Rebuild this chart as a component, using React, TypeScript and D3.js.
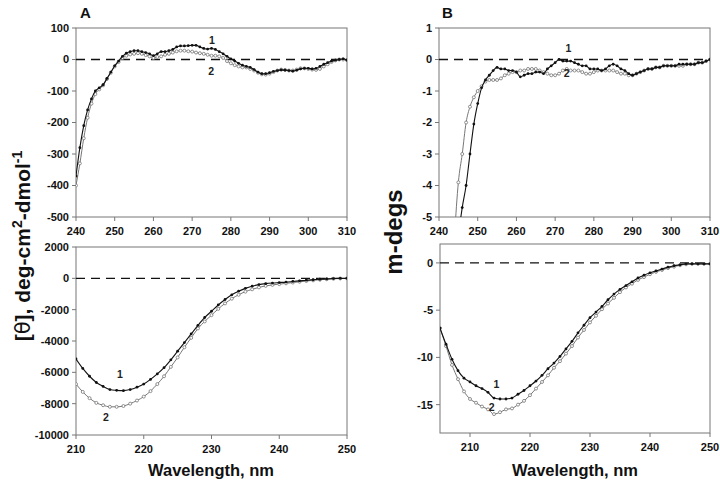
import React from "react";
import * as d3 from "d3";

// ---------- DATA ----------
const wlTop = d3.range(240, 311); // 240..310 nm
const aTop1 = [-370, -280, -210, -160, -125, -100, -90, -80, -60, -40, -20, -5, 10, 20, 25, 28, 28, 25, 22, 18, 12, 18, 25, 25, 28, 32, 40, 43, 43, 44, 45, 45, 40, 35, 33, 35, 32, 25, 18, 10, 2, -5, -12, -18, -22, -25, -32, -40, -45, -45, -42, -38, -35, -33, -34, -35, -37, -34, -30, -28, -28, -30, -28, -22, -15, -10, -5, -2, 0, 2, -2];
const aTop2 = [-400, -330, -250, -185, -140, -110, -95, -82, -62, -42, -22, -8, 5, 12, 16, 18, 20, 18, 14, 10, 5, 8, 10, 15, 18, 22, 26, 28, 28, 26, 25, 22, 20, 18, 15, 12, 12, 10, 5, -5, -12, -18, -22, -25, -25, -30, -35, -42, -47, -48, -45, -40, -35, -32, -33, -35, -35, -32, -28, -28, -30, -32, -33, -30, -22, -15, -8, -3, 0, 0, -2];

// null = off-scale (below -5), not drawn
const bTop1 = [null, null, null, null, null, -5.6, -4.7, -4.0, -3.0, -2.05, -1.4, -0.9, -0.65, -0.5, -0.35, -0.25, -0.3, -0.3, -0.35, -0.35, -0.4, -0.55, -0.5, -0.45, -0.45, -0.4, -0.4, -0.45, -0.3, -0.2, -0.1, 0.0, -0.05, -0.05, -0.05, -0.1, -0.15, -0.2, -0.2, -0.3, -0.3, -0.3, -0.35, -0.3, -0.2, -0.15, -0.2, -0.3, -0.35, -0.45, -0.5, -0.45, -0.4, -0.35, -0.3, -0.3, -0.25, -0.25, -0.2, -0.2, -0.2, -0.2, -0.15, -0.15, -0.15, -0.15, -0.15, -0.1, -0.1, -0.05, 0.0];
const bTop2 = [null, null, null, null, -5.6, -3.9, -3.0, -2.0, -1.5, -1.2, -1.0, -0.85, -0.7, -0.65, -0.65, -0.65, -0.6, -0.5, -0.45, -0.4, -0.4, -0.35, -0.35, -0.3, -0.3, -0.3, -0.35, -0.4, -0.45, -0.5, -0.5, -0.45, -0.35, -0.3, -0.35, -0.35, -0.35, -0.4, -0.45, -0.45, -0.4, -0.35, -0.35, -0.35, -0.35, -0.35, -0.4, -0.45, -0.45, -0.5, -0.5, -0.45, -0.4, -0.35, -0.3, -0.3, -0.25, -0.25, -0.2, -0.2, -0.2, -0.2, -0.2, -0.2, -0.15, -0.15, -0.15, -0.1, -0.1, -0.05, 0.0];

const wlBotA = d3.range(210, 251); // 210..250 nm
const aBot1 = [-5150, -5750, -6250, -6650, -6900, -7100, -7150, -7170, -7100, -6950, -6750, -6450, -6100, -5700, -5200, -4650, -4100, -3550, -3000, -2500, -2100, -1700, -1350, -1050, -820, -640, -500, -400, -340, -300, -270, -240, -200, -160, -120, -90, -60, -35, -15, 0, 0];
const aBot2 = [-6750, -7250, -7650, -7950, -8100, -8200, -8200, -8150, -8000, -7800, -7550, -7200, -6750, -6250, -5650, -5050, -4400, -3800, -3200, -2750, -2350, -1950, -1600, -1300, -1050, -850, -700, -580, -480, -420, -370, -320, -270, -220, -170, -130, -90, -60, -30, -10, 0];

const wlBotB = d3.range(205, 251); // 205..250 nm
const bBot1 = [-6.9, -8.6, -10.2, -11.4, -12.2, -12.6, -13.0, -13.3, -13.7, -14.3, -14.4, -14.4, -14.3, -13.9, -13.5, -13.0, -12.5, -11.9, -11.2, -10.6, -9.9, -9.1, -8.3, -7.4, -6.6, -5.8, -5.2, -4.6, -3.9, -3.3, -2.8, -2.4, -2.0, -1.6, -1.3, -1.05, -0.85, -0.65, -0.45, -0.3, -0.2, -0.1, -0.1, -0.1, -0.1, -0.1];
const bBot2 = [-6.9, -8.8, -10.8, -12.3, -13.6, -14.4, -14.8, -15.2, -15.5, -16.0, -15.8, -15.5, -15.4, -15.0, -14.6, -14.0, -13.3, -12.6, -11.9, -11.1, -10.4, -9.6, -8.8, -7.9, -7.1, -6.3, -5.6, -4.9, -4.3, -3.7, -3.1, -2.6, -2.2, -1.8, -1.5, -1.2, -0.95, -0.75, -0.55, -0.4, -0.25, -0.15, -0.1, -0.1, -0.1, -0.1];

const xTicksTop = [240, 250, 260, 270, 280, 290, 300, 310];
const xTicksBot = [210, 220, 230, 240, 250];
const yTicksATop = [100, 0, -100, -200, -300, -400, -500];
const yTicksBTop = [1, 0, -1, -2, -3, -4, -5];
const yTicksABot = [2000, 0, -2000, -4000, -6000, -8000, -10000];
const yTicksBBot = [0, -5, -10, -15];

// ---------- LAYOUT ----------
const FONT = "'Liberation Sans', Arial, Helvetica, sans-serif";

type Pt = [number, number | null];
type Panel = {
  id: string;
  x0: number; x1: number; y0: number; y1: number;
  xDomain: [number, number]; yDomain: [number, number];
  xTicks: number[]; yTicks: number[];
  wl: number[]; s1: (number | null)[]; s2: (number | null)[];
  lab1: [number, number]; lab2: [number, number];
};

const panels: Panel[] = [
  { id: "at", x0: 76, x1: 347, y0: 28, y1: 217, xDomain: [240, 310], yDomain: [-500, 100],
    xTicks: xTicksTop, yTicks: yTicksATop, wl: wlTop, s1: aTop1, s2: aTop2, lab1: [275.1, 62], lab2: [274.9, -38] },
  { id: "bt", x0: 439, x1: 710, y0: 28, y1: 217, xDomain: [240, 310], yDomain: [-5, 1],
    xTicks: xTicksTop, yTicks: yTicksBTop, wl: wlTop, s1: bTop1, s2: bTop2, lab1: [273.4, 0.35], lab2: [273.0, -0.45] },
  { id: "ab", x0: 76, x1: 347, y0: 247, y1: 435, xDomain: [210, 250], yDomain: [-10000, 2000],
    xTicks: xTicksBot, yTicks: yTicksABot, wl: wlBotA, s1: aBot1, s2: aBot2, lab1: [216.5, -6100], lab2: [214.4, -8850] },
  { id: "bb", x0: 440, x1: 710, y0: 244, y1: 433, xDomain: [205, 250], yDomain: [-18, 2],
    xTicks: xTicksBot, yTicks: yTicksBBot, wl: wlBotB, s1: bBot1, s2: bBot2, lab1: [214.4, -12.9], lab2: [213.6, -15.3] },
];

function PanelView({ p }: { p: Panel }) {
  const x = d3.scaleLinear().domain(p.xDomain).range([p.x0, p.x1]);
  const y = d3.scaleLinear().domain(p.yDomain).range([p.y1, p.y0]);
  const pts1: Pt[] = p.wl.map((w, i) => [w, p.s1[i]]);
  const pts2: Pt[] = p.wl.map((w, i) => [w, p.s2[i]]);
  const line = d3
    .line<Pt>()
    .defined((d) => d[1] != null)
    .x((d) => x(d[0]))
    .y((d) => y(d[1] as number))
    .curve(d3.curveMonotoneX);
  const clipId = "clip-" + p.id;
  return (
    <g>
      <defs>
        <clipPath id={clipId}>
          <rect x={p.x0} y={p.y0} width={p.x1 - p.x0} height={p.y1 - p.y0} />
        </clipPath>
      </defs>
      <rect x={p.x0} y={p.y0} width={p.x1 - p.x0} height={p.y1 - p.y0} fill="none" stroke="#777" strokeWidth={1} />
      {p.yTicks.map((t) => (
        <g key={"y" + t}>
          <line x1={p.x0 - 4} x2={p.x0} y1={y(t)} y2={y(t)} stroke="#777" strokeWidth={1} />
          <text x={p.x0 - 7} y={y(t)} dy="0.35em" textAnchor="end" fontFamily={FONT} fontWeight="bold" fontSize={11} fill="#111">
            {t}
          </text>
        </g>
      ))}
      {p.xTicks.map((t) => (
        <g key={"x" + t}>
          <line x1={x(t)} x2={x(t)} y1={p.y1} y2={p.y1 + 4} stroke="#777" strokeWidth={1} />
          <text x={x(t)} y={p.y1 + 14} dy="0.35em" textAnchor="middle" fontFamily={FONT} fontWeight="bold" fontSize={11} fill="#111">
            {t}
          </text>
        </g>
      ))}
      <line x1={p.x0} x2={p.x1} y1={y(0)} y2={y(0)} stroke="#111" strokeWidth={1.4} strokeDasharray="9,6" />
      <g clipPath={`url(#${clipId})`}>
        <path d={line(pts2) || ""} fill="none" stroke="#777" strokeWidth={1} />
        {pts2.filter((d) => d[1] != null).map((d, i) => (
          <circle key={"b" + i} cx={x(d[0])} cy={y(d[1] as number)} r={1.5} fill="#fff" stroke="#777" strokeWidth={0.8} />
        ))}
        <path d={line(pts1) || ""} fill="none" stroke="#111" strokeWidth={1.1} />
        {pts1.filter((d) => d[1] != null).map((d, i) => (
          <circle key={"a" + i} cx={x(d[0])} cy={y(d[1] as number)} r={1.4} fill="#111" />
        ))}
      </g>
      <text x={x(p.lab1[0])} y={y(p.lab1[1])} dy="0.35em" textAnchor="middle" fontFamily={FONT} fontWeight="bold" fontSize={10.5} fill="#222">1</text>
      <text x={x(p.lab2[0])} y={y(p.lab2[1])} dy="0.35em" textAnchor="middle" fontFamily={FONT} fontWeight="bold" fontSize={10.5} fill="#222">2</text>
    </g>
  );
}

export default function App() {
  return (
    <svg width={720} height={481} viewBox="0 0 720 481" style={{ position: "absolute", left: 0, top: 0, background: "#fff" }}>
      <rect x={0} y={0} width={720} height={481} fill="#fff" />
      {panels.map((p) => (
        <PanelView key={p.id} p={p} />
      ))}
      <text x={80} y={18} fontFamily={FONT} fontWeight="bold" fontSize={15} fill="#111">A</text>
      <text x={442} y={18} fontFamily={FONT} fontWeight="bold" fontSize={15} fill="#111">B</text>
      <text x={211} y={470} dy="0.35em" textAnchor="middle" fontFamily={FONT} fontWeight="bold" fontSize={16.5} fill="#111">Wavelength, nm</text>
      <text x={575} y={470} dy="0.35em" textAnchor="middle" fontFamily={FONT} fontWeight="bold" fontSize={16.5} fill="#111">Wavelength, nm</text>
      <text transform="translate(30,246) rotate(-90)" textAnchor="middle" fontFamily={FONT} fontWeight="bold" fontSize={21} fill="#111">
        [<tspan fontFamily="'DejaVu Sans', sans-serif" fontWeight="normal">θ</tspan>], deg-cm
        <tspan dy={-8} fontSize={14}>2</tspan>
        <tspan dy={8}>-dmol</tspan>
        <tspan dy={-8} fontSize={14}>-1</tspan>
      </text>
      <text transform="translate(402,232) rotate(-90)" textAnchor="middle" fontFamily={FONT} fontWeight="bold" fontSize={24} fill="#111">m-degs</text>
    </svg>
  );
}
